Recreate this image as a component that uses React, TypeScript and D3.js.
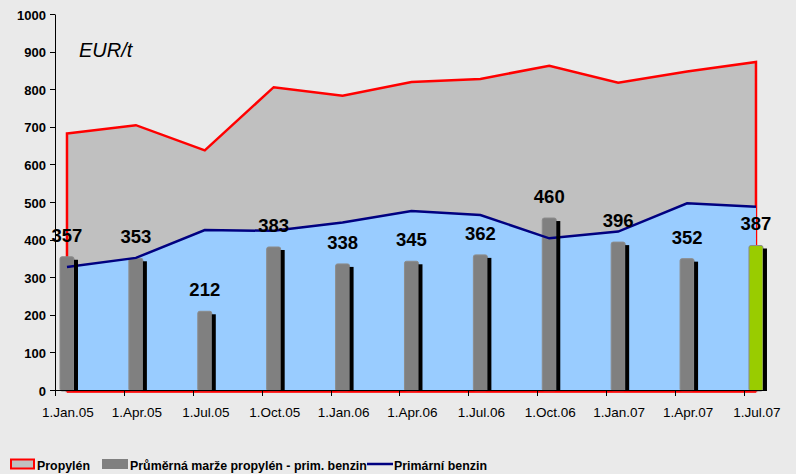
import React, { FC, useMemo } from "react";
import { scaleLinear, area, line, range } from "d3";

const categories = [
  "1.Jan.05",
  "1.Apr.05",
  "1.Jul.05",
  "1.Oct.05",
  "1.Jan.06",
  "1.Apr.06",
  "1.Jul.06",
  "1.Oct.06",
  "1.Jan.07",
  "1.Apr.07",
  "1.Jul.07",
];
const propylen = [685, 707, 640, 808, 785, 822, 830, 865, 820, 850, 875];
const benzin = [330, 354, 428, 426, 448, 479, 468, 406, 424, 499, 490];
const marze = [357, 353, 212, 383, 338, 345, 362, 460, 396, 352, 387];
const yTicks = [0, 100, 200, 300, 400, 500, 600, 700, 800, 900, 1000];

const WIDTH = 796;
const HEIGHT = 474;
const FONT = "Arial, 'Liberation Sans', sans-serif";

const App: FC = () => {
  const x = useMemo(
    () => scaleLinear().domain([-0.174, 10.16]).range([55, 767]),
    []
  );
  const y = useMemo(
    () => scaleLinear().domain([0, 1000]).range([391, 15]),
    []
  );

  const idx = range(categories.length);

  const propylenArea = area<number>()
    .x((i) => x(i))
    .y0(y(0))
    .y1((i) => y(propylen[i]))(idx);

  const benzinArea = area<number>()
    .x((i) => x(i))
    .y0(y(0))
    .y1((i) => y(benzin[i]))(idx);

  const benzinLine = line<number>()
    .x((i) => x(i))
    .y((i) => y(benzin[i]))(idx);

  const barW = 14;
  const shadowW = 4;

  return (
    <svg
      width={WIDTH}
      height={HEIGHT}
      style={{ position: "absolute", left: 0, top: 0, display: "block" }}
      fontFamily={FONT}
    >
      <rect width={WIDTH} height={HEIGHT} fill="#eaeaea" />

      {/* propylen area with red outline */}
      <path
        d={(propylenArea ?? "") + "Z"}
        fill="#c0c0c0"
        stroke="#ff0000"
        strokeWidth={2.5}
        strokeLinejoin="miter"
      />
      <path d={benzinArea ?? ""} fill="#99ccff" />

      {/* axes */}
      <line x1={55.5} x2={55.5} y1={y(1000)} y2={390.5} stroke="#000" />
      {yTicks.map((t) => (
        <g key={t}>
          <line
            x1={50}
            x2={55.5}
            y1={Math.round(y(t)) - 0.5}
            y2={Math.round(y(t)) - 0.5}
            stroke="#000"
          />
          <text
            x={46}
            y={y(t) + 4.5}
            textAnchor="end"
            fontSize={13}
            fontWeight="bold"
            fill="#000"
          >
            {t}
          </text>
        </g>
      ))}

      {/* bars */}
      {marze.map((v, i) => (
        <rect
          key={"b" + i}
          x={x(i) - barW / 2}
          y={y(v)}
          width={barW}
          height={y(0) - y(v)}
          rx={2}
          fill={i === marze.length - 1 ? "#99cc00" : "#808080"}
          stroke={i === marze.length - 1 ? "#8a8a8a" : "#8c8c8c"}
          strokeWidth={1}
        />
      ))}

      <path d={benzinLine ?? ""} fill="none" stroke="#000080" strokeWidth={2.5} />

      {marze.map((v, i) => (
        <rect
          key={"s" + i}
          x={x(i) + barW / 2}
          y={y(v) + 3}
          width={shadowW}
          height={y(0) - y(v) - 3}
          fill="#000"
        />
      ))}

      <line x1={55} x2={767} y1={390.5} y2={390.5} stroke="#000" />
      <line x1={x(0)} x2={x(10)} y1={392} y2={392} stroke="#ff0000" strokeWidth={1.5} />
      {idx.map((i) => (
        <line
          key={"t" + i}
          x1={Math.round(x(i - 0.174)) + 0.5}
          x2={Math.round(x(i - 0.174)) + 0.5}
          y1={390}
          y2={396}
          stroke="#000"
        />
      ))}

      {categories.map((c, i) => (
        <text
          key={c}
          x={x(i) + 1}
          y={417}
          textAnchor="middle"
          fontSize={13.5}
          fill="#000"
        >
          {c}
        </text>
      ))}

      {marze.map((v, i) => (
        <text
          key={"l" + i}
          x={x(i)}
          y={y(v) - 15}
          textAnchor="middle"
          fontSize={18.5}
          fontWeight="bold"
          fill="#000"
        >
          {v}
        </text>
      ))}

      <text x={79} y={57} fontSize={20} fontStyle="italic" fill="#000">
        EUR/t
      </text>

      {/* legend */}
      <g fontSize={12.4} fontWeight="bold" fill="#000">
        <rect x={11} y={459.5} width={23} height={9} fill="#c0c0c0" stroke="#ff0000" strokeWidth={2} />
        <text x={37} y={469.5}>Propylén</text>
        <rect x={102} y={459} width={26} height={10} fill="#808080" />
        <text x={130} y={469.5}>Průměrná marže propylén - prim. benzin</text>
        <line x1={367} x2={393} y1={464} y2={464} stroke="#000080" strokeWidth={2.5} />
        <text x={394} y={469.5}>Primární benzin</text>
      </g>
    </svg>
  );
};

export default App;
